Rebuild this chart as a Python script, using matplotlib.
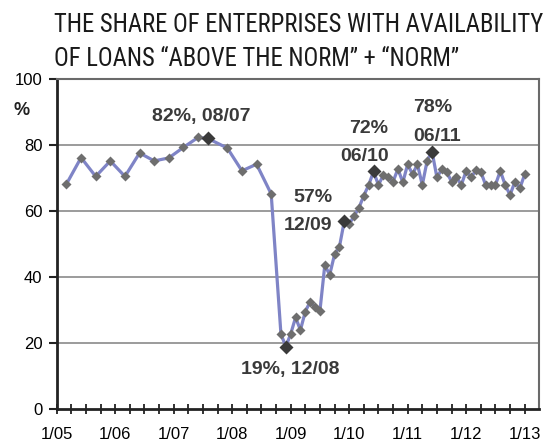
import matplotlib
matplotlib.use("Agg")
import matplotlib.pyplot as plt
from matplotlib import font_manager

# ---------------- data ----------------
dates = ["3/05", "6/05", "9/05", "12/05", "3/06", "6/06", "9/06", "12/06",
         "3/07", "6/07", "8/07", "12/07", "3/08", "6/08", "9/08",
         "11/08", "12/08",
         "1/09", "2/09", "3/09", "4/09", "5/09", "6/09", "7/09", "8/09", "9/09", "10/09", "11/09", "12/09",
         "1/10", "2/10", "3/10", "4/10", "5/10", "6/10", "7/10", "8/10", "9/10", "10/10", "11/10", "12/10",
         "1/11", "2/11", "3/11", "4/11", "5/11", "6/11", "7/11", "8/11", "9/11", "10/11", "11/11", "12/11",
         "1/12", "2/12", "3/12", "4/12", "5/12", "6/12", "7/12", "8/12", "9/12", "10/12", "11/12", "12/12",
         "1/13"]
values = [68.2, 76.2, 70.5, 75.2, 70.5, 77.6, 75.2, 76.1,
          79.3, 82.3, 82.0, 79.1, 72.2, 74.2, 65.2,
          22.8, 19.0,
          22.8, 27.8, 24.0, 29.6, 32.6, 31.1, 29.8, 43.7, 40.7, 46.9, 49.2, 57.0,
          56.1, 58.5, 61.0, 64.7, 67.9, 72.0, 67.9, 70.9, 70.2, 68.9, 72.8, 68.7,
          74.2, 71.1, 74.2, 67.9, 75.3, 78.0, 70.2, 72.7, 71.9, 68.9, 70.4, 67.9,
          72.2, 70.2, 72.4, 71.9, 67.9, 67.9, 67.9, 72.2, 67.9, 64.9, 68.9, 66.9,
          71.1]

highlight_dates = ["8/07", "12/08", "12/09", "6/10", "6/11"]
# annotation lines: (date, text)
annot_lines = [("8/07", "82%, 08/07"),
               ("12/08", "19%, 12/08"),
               ("12/09", "57%"), ("12/09", "12/09"),
               ("6/10", "72%"), ("6/10", "06/10"),
               ("6/11", "78%"), ("6/11", "06/11")]
# placement (style): offsets in pixels, alignment
annot_style = [(-7, 17, "center"),
               (54, -27, "right"),
               (-12, 19, "right"), (-12, -9, "right"),
               (15, 38, "right"), (15, 10, "right"),
               (-19, 40, "left"), (-19, 11, "left")]

xtick_labels = ["1/05", "1/06", "1/07", "1/08", "1/09", "1/10", "1/11", "1/12", "1/13"]
title_lines = ["THE SHARE OF ENTERPRISES WITH AVAILABILITY",
               "OF LOANS \u201cABOVE THE NORM\u201d + \u201cNORM\u201d"]


def month_index(s):
    m, y = s.split("/")
    return (int(y) - 5) * 12 + int(m) - 1


x = [month_index(d) for d in dates]
lookup = dict(zip(dates, values))

# ---------------- fonts ----------------
available = {f.name for f in font_manager.fontManager.ttflist}
title_font = "Roboto"
for cand in ["Liberation Sans Narrow", "Roboto Condensed", "Open Sans Condensed"]:
    if cand in available:
        title_font = cand
        break
plt.rcParams["font.family"] = ["Liberation Sans", "DejaVu Sans"]

W, H = 559, 446
fig = plt.figure(figsize=(W / 100, H / 100), dpi=100)
ax = fig.add_axes([56.7 / W, 1 - 409.3 / H, (539.3 - 56.7) / W, (409.3 - 79) / H])

line_col = "#7f84c6"
ax.plot(x, values, color=line_col, lw=2.3, zorder=3, solid_joinstyle="round")
ax.plot(x, values, ls="none", marker="D", ms=4.7, mfc="#6e6e6e", mec="none", zorder=4)
hx = [month_index(d) for d in highlight_dates]
hy = [lookup[d] for d in highlight_dates]
ax.plot(hx, hy, ls="none", marker="D", ms=7.4, mfc="#3a3a3a", mec="none", zorder=5)

for (d, t), (dx, dy, ha) in zip(annot_lines, annot_style):
    ax.annotate(t, xy=(month_index(d), lookup[d]), xytext=(dx, dy),
                textcoords="offset pixels", ha=ha, va="baseline",
                fontsize=14, fontweight="bold", color="#3a3a3a", zorder=6)

ax.set_xlim(0, 99)
ax.set_ylim(0, 100)
ax.set_yticks(range(0, 101, 20))
ax.set_xticks(range(0, 97, 3))
labels = []
for i in range(0, 97, 3):
    labels.append(xtick_labels[i // 12] if i % 12 == 0 else "")
ax.set_xticklabels(labels)

for yv in [20, 40, 60, 80]:
    ax.axhline(yv, color="#8a8a8a", lw=1.2, zorder=1)

ax.tick_params(axis="y", direction="out", length=5.8, width=1.5, pad=4.5,
               labelsize=12, color="#222222")
ax.tick_params(axis="x", direction="inout", length=7.5, width=1.3, pad=9,
               labelsize=12, color="#222222")
for s in ["left", "bottom"]:
    ax.spines[s].set_color("#222222")
    ax.spines[s].set_linewidth(2)
for s in ["top", "right"]:
    ax.spines[s].set_color("#6a6a6a")
    ax.spines[s].set_linewidth(1.5)

fig.text(22 / W, 1 - 110.5 / H, "%", ha="center", va="center",
         fontsize=13, fontweight="bold", color="#222222")

# title
t1 = fig.text(54 / W, 1 - 32 / H, title_lines[0], ha="left", va="baseline",
              fontsize=18, family=title_font, color="#1a1a1a")
t2 = fig.text(54 / W, 1 - 66 / H, title_lines[1], ha="left", va="baseline",
              fontsize=18, family=title_font, color="#1a1a1a")
fig.canvas.draw()
r = fig.canvas.get_renderer()
w1 = t1.get_window_extent(r).width
fs = 18 * 490 / w1
t1.set_fontsize(fs)
t2.set_fontsize(fs)

fig.savefig("out.png", dpi=100)
